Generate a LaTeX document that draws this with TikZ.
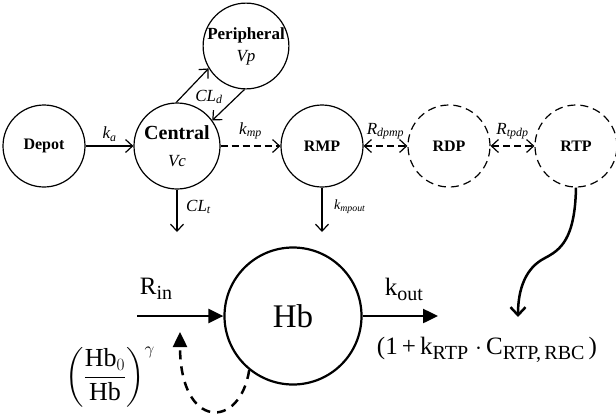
\documentclass[tikz,border=0pt]{standalone}
\usepackage{amsmath}
\usepackage{fontspec}
\setmainfont{Liberation Serif}
\usetikzlibrary{arrows.meta, calc, positioning}
\newcommand{\lowsub}[1]{\raisebox{-5pt}{\fontsize{20}{22}\selectfont #1}}

\begin{document}
\begin{tikzpicture}[x=1pt, y=-1pt, >={Straight Barb[length=7pt, width=13pt]},
    comp/.style={circle, draw, line width=1.2pt, minimum size=82pt, inner sep=0pt, align=center,
      font=\fontsize{16}{18}\selectfont\bfseries},
    dcomp/.style={comp, dash pattern=on 8pt off 5pt},
    flow/.style={line width=1.2pt, ->},
    dflow/.style={line width=1.2pt, dash pattern=on 7pt off 4pt},
    bigflow/.style={line width=2.5pt, -{Triangle[length=15pt, width=14pt]}},
    rate/.style={inner sep=1pt, font=\fontsize{17}{19}\selectfont\itshape},
    eqn/.style={inner sep=1pt, font=\fontsize{25}{28}\selectfont}]
    \useasboundingbox (0,0) rectangle (616,418);

    \node[comp] (depot) at (44,146) {Depot};
    \node[comp, minimum size=86pt, font=\fontsize{20}{22}\selectfont\bfseries] (central) at (177,146)
      {Central\\[5pt]{\mdseries\itshape\fontsize{17}{19}\selectfont Vc}};
    \node[comp, font=\fontsize{17}{19}\selectfont\bfseries] (peri) at (246,46)
      {Peripheral\\[3pt]{\mdseries\itshape Vp}};
    \node[comp] (rmp) at (322,146) {RMP};
    \node[dcomp] (rdp) at (449,146) {RDP};
    \node[dcomp] (rtp) at (576,146) {RTP};

    \draw[flow] (depot) -- (central)
      node[rate, midway, above=3pt] (ka) {k\textsubscript{a}};
    \draw[flow] (central.91) -- (peri.211);
    \draw[flow] (peri.268) -- (central.36);
    \node[rate] (cld) at (209,97) {CL\textsubscript{d}};
    \draw[dflow, ->] (central) -- (rmp)
      node[rate, midway, above=5pt] (kmp) {k\textsubscript{mp}};
    \draw[dflow, <->] (rmp) -- (rdp)
      node[rate, midway, above=5pt] (rdpmp) {R\textsubscript{dpmp}};
    \draw[dflow, <->] (rdp) -- (rtp)
      node[rate, midway, above=5pt] (rtpdp) {R\textsubscript{tpdp}};

    \coordinate (clt-end) at (177,232);
    \coordinate (kmpout-end) at (322,232);
    \draw[flow] (central) -- (clt-end);
    \draw[flow] (rmp) -- (kmpout-end);
    \node[rate, anchor=west] (clt) at (185,207) {CL\textsubscript{t}};
    \node[rate, anchor=west, font=\fontsize{14}{16}\selectfont\itshape] (kmpout) at (333,207) {k\textsubscript{mpout}};

    \node[circle, draw, line width=2.2pt, minimum size=137pt, inner sep=0pt,
      font=\fontsize{33}{36}\selectfont] (hb) at (293,316) {Hb};
    \coordinate (rin-start) at (137,316);
    \coordinate (kout-end) at (438,316);
    \coordinate (fb-end) at (180,332);
    \coordinate (rtp-end) at (518,317);
    \draw[bigflow] (rin-start) -- (hb);
    \draw[bigflow] (hb) -- (kout-end);
    \node[eqn] (rin) at (156,289) {R\lowsub{in}};
    \node[eqn] (kout) at (404,289) {k\lowsub{out}};
    \node[eqn] (kdeg) at (487,350) {(1\,+\,k\lowsub{RTP}\;$\cdot$\,C\lowsub{RTP,\,RBC}\,)};
    \node[eqn, font=\fontsize{26}{30}\selectfont] (fback) at (110,377)
      {$\left(\dfrac{\mathrm{Hb}_0}{\mathrm{Hb}}\right)^{\gamma}$};

    \draw[bigflow, dash pattern=on 9pt off 7pt] (hb.231) .. controls (240,430) and (180,430) .. (fb-end);
    \draw[line width=2.5pt, ->, >={Straight Barb[length=8pt, width=15pt]}]
      (rtp.south) .. controls (575,240) and (560,250) .. (545,258)
      .. controls (525,268) and (518,290) .. (rtp-end);
\end{tikzpicture}
\end{document}
